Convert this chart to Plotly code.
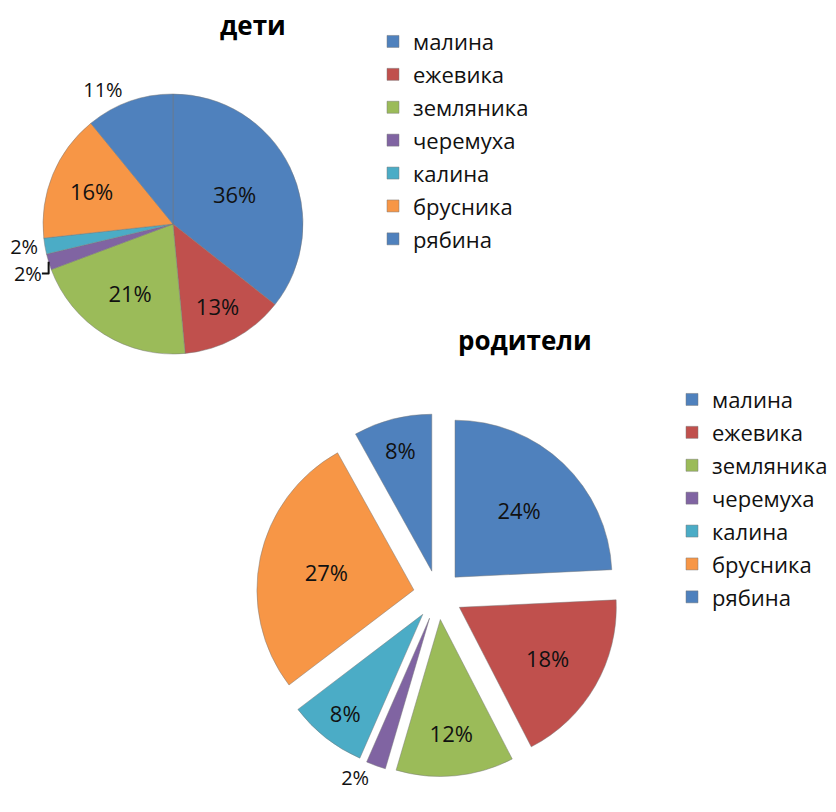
import plotly.graph_objects as go

categories = ["малина", "ежевика", "земляника", "черемуха", "калина", "брусника", "рябина"]
children_values = [36, 13, 21, 2, 2, 16, 11]
parents_values = [24, 18, 12, 2, 8, 27, 8]
colors = ["#4F81BD", "#C0504D", "#9BBB59", "#8064A2", "#4BACC6", "#F79646", "#4F81BD"]
children_textpos = ["inside", "inside", "inside", "outside", "outside", "inside", "outside"]
parents_textpos = ["inside", "inside", "inside", "outside", "inside", "inside", "inside"]
titles = ["дети", "родители"]

OFF = 8  # page body margin
W, H = 836 - 2 * OFF, 812 - 2 * OFF
FONT = "Open Sans"
labels1 = ['<span style="font-size:22px">%s</span>' % c for c in categories]
labels2 = ['<span style="font-size: 22px">%s</span>' % c for c in categories]

def fx(p):
    return (p - OFF) / W

def fy(p):
    return 1 - (p - OFF) / H

def px_dom(x0, x1, y0, y1):
    return dict(x=[fx(x0), fx(x1)], y=[fy(y1), fy(y0)])

line = dict(color="rgba(120,120,120,0.6)", width=0.8)
fig = go.Figure()
fig.add_trace(go.Pie(
    labels=labels1, values=children_values, sort=False, direction="clockwise",
    rotation=0, marker=dict(colors=colors, line=line),
    texttemplate="%{value}%", textposition=children_textpos,
    insidetextorientation="horizontal",
    textfont=dict(family=FONT, size=22, color="#111111"),
    outsidetextfont=dict(family=FONT, size=20, color="#111111"),
    domain=px_dom(43, 303, 94, 354), legend="legend", hoverinfo="label+value",
))
fig.add_trace(go.Pie(
    labels=labels2, values=parents_values, sort=False, direction="clockwise",
    rotation=0, pull=[0.157] * 7,
    marker=dict(colors=colors, line=line),
    texttemplate="%{value}%", textposition=parents_textpos,
    insidetextorientation="horizontal",
    textfont=dict(family=FONT, size=22, color="#111111"),
    outsidetextfont=dict(family=FONT, size=20, color="#111111"),
    domain=px_dom(256.4, 619.6, 413.4, 776.6), legend="legend2", hoverinfo="label+value",
))

leg_common = dict(font=dict(family=FONT, size=23, color="#111111"), xanchor="left", yanchor="top",
                  xref="container", yref="container",
                  bgcolor="rgba(0,0,0,0)", tracegroupgap=0)
fig.update_layout(
    width=W, height=H, margin=dict(l=0, r=0, t=0, b=0, autoexpand=False),
    paper_bgcolor="white", plot_bgcolor="white",
    legend=dict(x=fx(373), y=fy(20), **leg_common),
    legend2=dict(x=fx(672), y=fy(378), **leg_common),
    annotations=[
        dict(text="<b>%s</b>" % titles[0], x=fx(253), y=fy(25), xref="paper", yref="paper",
             showarrow=False, font=dict(family=FONT, size=26, color="#000000"), xanchor="center", yanchor="middle"),
        dict(text="<b>%s</b>" % titles[1], x=fx(525), y=fy(340), xref="paper", yref="paper",
             showarrow=False, font=dict(family=FONT, size=26, color="#000000"), xanchor="center", yanchor="middle"),
    ],
)
fig.write_html("out.html")
